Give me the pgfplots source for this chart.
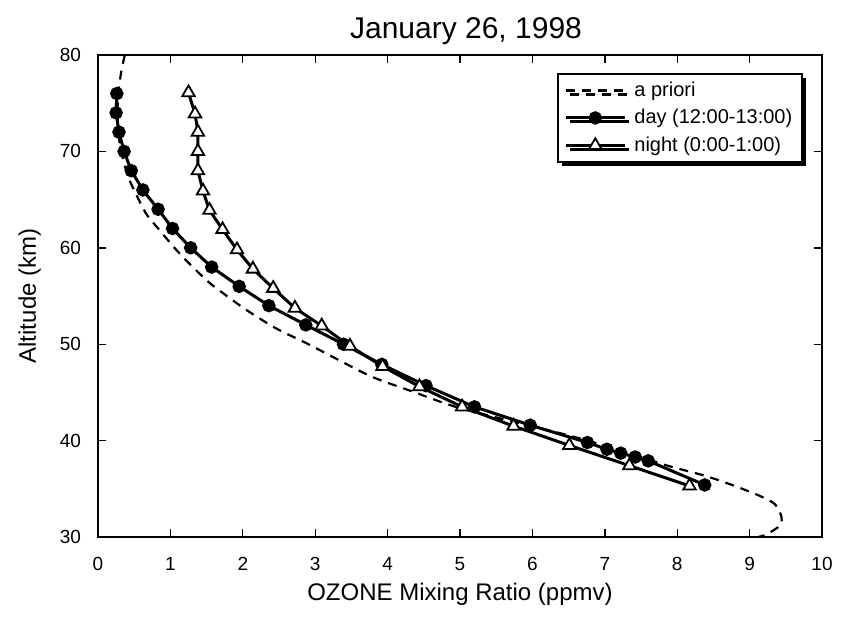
\documentclass[border=0pt]{standalone}
\usepackage{fontspec}
\setmainfont{Liberation Sans}
\usepackage{pgfplots}
\pgfplotsset{compat=1.18}
\usetikzlibrary{shadows}
\begin{document}
\begin{tikzpicture}
\path[use as bounding box] (-49pt,-45pt) rectangle (374pt,268.5pt);
\begin{axis}[
  scale only axis, width=362pt, height=241pt,
  xmin=0, xmax=10, ymin=30, ymax=80,
  xtick={0,1,...,10}, ytick={30,40,...,80},
  tick align=inside, major tick length=4pt,
  axis line style={line width=0.8pt},
  every tick/.style={line width=0.7pt, black},
  /pgf/number format/assume math mode=true,
  ticklabel style={font=\fontsize{9.5}{11}\selectfont},
  xticklabel style={anchor=base, yshift=-16.5pt},
  yticklabel style={anchor=east, xshift=-5pt},
  title={January 26, 1998},
  title style={at={(axis description cs:0.5,1)}, anchor=base, yshift=2.5pt, xshift=3pt, font=\fontsize{15}{17}\selectfont},
  xlabel={OZONE Mixing Ratio (ppmv)},
  xlabel style={at={(axis description cs:0.5,0)}, anchor=base, yshift=-31.5pt, font=\fontsize{12}{14}\selectfont},
  ylabel={Altitude (km)},
  ylabel style={at={(axis description cs:-0.0857,0.5)}, anchor=base, font=\fontsize{12}{14}\selectfont},
  legend style={at={(0.974,0.963)}, anchor=north east, draw=black, line width=0.9pt,
    fill=white, font=\fontsize{10}{12}\selectfont,
    drop shadow={shadow xshift=2pt, shadow yshift=-2pt, fill=black, opacity=1},
    inner xsep=3pt, inner ysep=2pt, row sep=1pt, column sep=2pt},
  legend cell align=left,
  legend image code/.code={
    \draw[mark repeat=2,mark phase=2,#1] plot coordinates {(0cm,0cm) (0.52cm,0cm) (1.04cm,0cm)};},
]
\addplot[black, line width=1.1pt, dashed, dash pattern=on 4.5pt off 3.5pt, smooth, tension=0.5] coordinates {
(0.37,80) (0.32,78.2) (0.28,76) (0.27,74) (0.28,72) (0.32,70) (0.39,68) (0.46,66.6)
(0.66,63.6) (0.82,62.1) (1.14,59.3) (1.49,56.7) (1.69,55.5) (2.06,53.5) (2.47,51.6)
(2.88,50.1) (3.34,48.3) (3.79,46.6) (4.34,45.1) (4.94,43.5) (5.72,42) (6.52,40.5)
(7.22,39) (7.82,37.5) (8.36,36.4) (8.72,35.5) (9.13,34.3) (9.35,33.4) (9.44,32.1)
(9.42,31.2) (9.24,30.3) (9.12,30)
};
\addlegendentry{a priori}
\addplot[black, line width=1.5pt, mark=*, mark size=2.6pt, mark options={solid, fill=black}] coordinates {
(0.26,76) (0.25,74) (0.29,72) (0.36,70) (0.46,68) (0.62,66) (0.83,64) (1.03,62)
(1.28,60) (1.57,58) (1.95,56) (2.36,54) (2.87,52) (3.39,50) (3.92,47.9) (4.53,45.7)
(5.20,43.5) (5.97,41.6) (6.76,39.8) (7.03,39.1) (7.22,38.7) (7.42,38.3) (7.60,37.9) (8.38,35.4)
};
\addlegendentry{day (12:00-13:00)}
\addplot[black, line width=1.5pt, mark=triangle*, mark size=3.6pt, mark options={solid, fill=white, line width=0.9pt}] coordinates {
(1.25,76.1) (1.34,73.9) (1.38,72) (1.38,70) (1.38,68) (1.45,65.9) (1.54,63.9) (1.72,61.9)
(1.92,59.8) (2.14,57.8) (2.42,55.8) (2.72,53.75) (3.09,51.9) (3.48,49.8) (3.93,47.7)
(4.44,45.6) (5.03,43.5) (5.74,41.5) (6.51,39.5) (7.34,37.4) (8.17,35.3)
};
\addlegendentry{night (0:00-1:00)}
\end{axis}
\end{tikzpicture}
\end{document}
